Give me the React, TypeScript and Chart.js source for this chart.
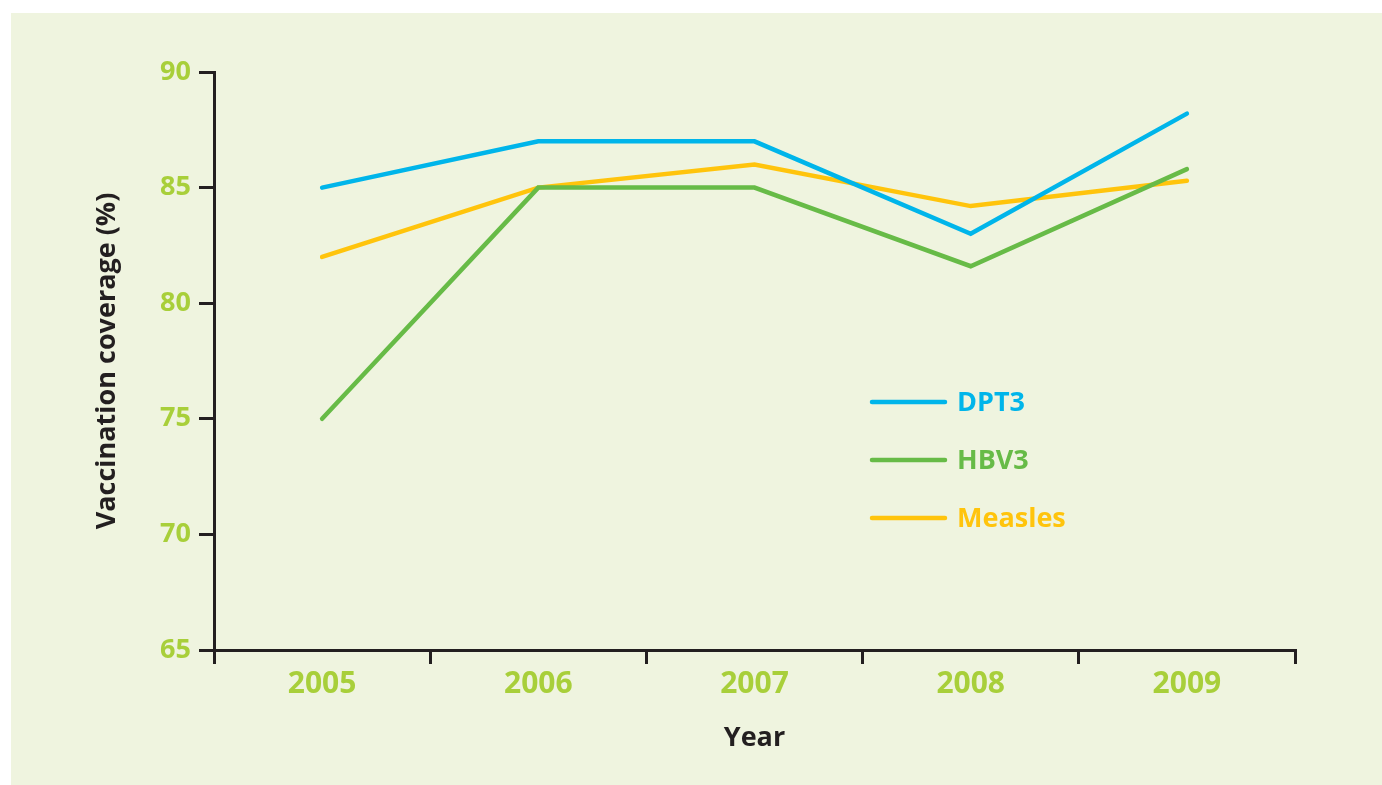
import React, { useEffect, useRef } from "react";
import { Chart, registerables } from "chart.js";

Chart.register(...registerables);

const years = ["2005", "2006", "2007", "2008", "2009"];
const dpt3 = [85, 87, 87, 83, 88.2];
const hbv3 = [75, 85, 85, 81.6, 85.8];
const measles = [82, 85, 86, 84.2, 85.3];
const seriesNames = ["DPT3", "HBV3", "Measles"];
const seriesColors = ["#00B5EA", "#67BB47", "#FFC40C"];
const yTicks = [65, 70, 75, 80, 85, 90];

const FONT = "'Open Sans', 'DejaVu Sans', sans-serif";
const TICK_COLOR = "#A8CF3A";
const AXIS_COLOR = "#231F20";

const insideLegend = {
  id: "insideLegend",
  afterDatasetsDraw(chart: any) {
    const ctx = chart.ctx;
    const area = chart.chartArea;
    const x0 = area.left + 658;
    const x1 = x0 + 73;
    ctx.save();
    ctx.font = `bold 27px ${FONT}`;
    ctx.textBaseline = "middle";
    ctx.textAlign = "left";
    chart.data.datasets.forEach((ds: any, i: number) => {
      const y = area.top + 330 + i * 58;
      ctx.strokeStyle = ds.borderColor;
      ctx.lineWidth = 4.5;
      ctx.lineCap = "round";
      ctx.beginPath();
      ctx.moveTo(x0, y);
      ctx.lineTo(x1, y);
      ctx.stroke();
      ctx.fillStyle = ds.borderColor;
      ctx.fillText(ds.label, x1 + 12, y + 1);
    });
    ctx.restore();
  },
};

export default function App() {
  const ref = useRef<HTMLCanvasElement | null>(null);

  useEffect(() => {
    if (!ref.current) return;
    const values = [dpt3, hbv3, measles];
    const chart = new Chart(ref.current, {
      type: "line",
      data: {
        labels: years,
        datasets: values.map((v, i) => ({
          label: seriesNames[i],
          data: v,
          borderColor: seriesColors[i],
          backgroundColor: seriesColors[i],
          borderWidth: 4.5,
          pointRadius: 0,
          tension: 0,
          borderCapStyle: "round",
          borderJoinStyle: "miter",
          fill: false,
        })),
      },
      options: {
        animation: false,
        responsive: false,
        maintainAspectRatio: false,
        layout: { padding: { left: 0, top: 59, right: 87, bottom: 0 } },
        plugins: {
          legend: { display: false },
          tooltip: { enabled: false },
        },
        scales: {
          x: {
            type: "category",
            offset: true,
            afterFit: (s: any) => {
              s.height = 135;
            },
            grid: {
              display: true,
              offset: true,
              drawOnChartArea: false,
              drawTicks: true,
              tickLength: 14,
              color: AXIS_COLOR,
              lineWidth: 3,
            },
            border: { display: true, color: AXIS_COLOR, width: 3 },
            ticks: {
              color: TICK_COLOR,
              font: { family: FONT, size: 30, weight: "bold" },
              padding: 2,
              maxRotation: 0,
            },
            title: {
              display: true,
              text: "Year",
              color: AXIS_COLOR,
              font: { family: FONT, size: 27, weight: "bold" },
              padding: { top: 0, bottom: 30 },
            },
          },
          y: {
            min: yTicks[0],
            max: yTicks[yTicks.length - 1],
            afterFit: (s: any) => {
              s.width = 203;
            },
            afterBuildTicks: (s: any) => {
              s.ticks = yTicks.map((v) => ({ value: v }));
            },
            grid: {
              display: true,
              drawOnChartArea: false,
              drawTicks: true,
              tickLength: 15,
              color: AXIS_COLOR,
              lineWidth: 3,
            },
            border: { display: true, color: AXIS_COLOR, width: 3 },
            ticks: {
              color: TICK_COLOR,
              font: { family: FONT, size: 27, weight: "bold" },
              padding: 8,
            },
            title: {
              display: true,
              text: "Vaccination coverage (%)",
              color: AXIS_COLOR,
              font: { family: FONT, size: 27, weight: "bold" },
              padding: { top: 80, bottom: 0 },
            },
          },
        },
      },
      plugins: [insideLegend],
    });
    return () => chart.destroy();
  }, []);

  return (
    <div
      style={{
        position: "fixed",
        left: 0,
        top: 0,
        width: 1382,
        height: 785,
        background: "#ffffff",
      }}
    >
      <div
        style={{
          position: "absolute",
          left: 11,
          top: 13,
          width: 1371,
          height: 772,
          background: "#EFF4DF",
        }}
      >
        <canvas ref={ref} width={1371} height={772} style={{ display: "block" }} />
      </div>
    </div>
  );
}
